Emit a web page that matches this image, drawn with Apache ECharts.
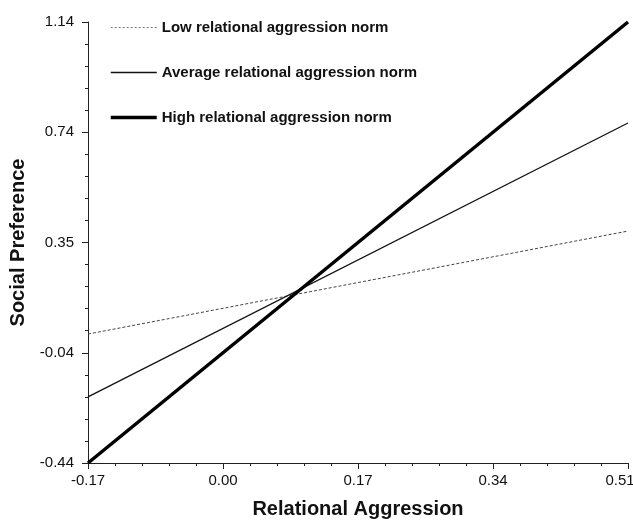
<!DOCTYPE html>
<html>
<head>
<meta charset="utf-8">
<script src="https://cdn.jsdelivr.net/npm/echarts@6/dist/echarts.min.js"></script>
<style>
  html, body { margin: 0; padding: 0; background: #fff; }
  #main { width: 633px; height: 524px; }
</style>
</head>
<body>
<div id="main"></div>
<script>
// endpoints of the simple slopes
const xValues = [-0.17, 0.51];
const lowNorm = [0.022, 0.391];
const avgNorm = [-0.203, 0.778];
const highNorm = [-0.44, 1.14];

const seriesNames = [
    'Low relational aggression norm',
    'Average relational aggression norm',
    'High relational aggression norm'
];

// y ticks are not a round step, so list them
const yTickValues = [-0.44, -0.045, 0.35, 0.745, 1.14];
const yTickLabels = ['-0.44', '-0.04', '0.35', '0.74', '1.14'];

const yMinor = [];
for (let i = 0; i <= 20; i++) {
    yMinor.push(-0.44 + i * (1.58 / 20));
}

function pairs(ys) {
    return xValues.map((x, i) => [x, ys[i]]);
}

var chartDom = document.getElementById('main');
var myChart = echarts.init(chartDom);
var option;

const font = 'Liberation Sans, Arial, sans-serif';
const lineStyles = [
    { color: '#444', width: 1, type: [3, 2] },
    { color: '#111', width: 1.3 },
    { color: '#000', width: 3.5 }
];

option = {
    animation: false,
    backgroundColor: '#fff',
    grid: { left: 88, right: 5, top: 22, bottom: 61, containLabel: false, outerBoundsMode: 'none' },
    legend: {
        orient: 'vertical',
        left: 104,
        top: 15,
        itemWidth: 46,
        itemHeight: 16,
        itemGap: 30,
        itemStyle: { color: 'transparent', borderWidth: 0 },
        textStyle: { fontFamily: font, fontSize: 15, fontWeight: 'bold', color: '#111', padding: [0, 0, 0, 0] },
        data: seriesNames.map((n, i) => ({
            name: n,
            lineStyle: i === 0 ? { color: '#777', width: 1, type: [2, 2] } : lineStyles[i]
        }))
    },
    xAxis: {
        type: 'value',
        min: -0.17,
        max: 0.51,
        interval: 0.17,
        name: 'Relational Aggression',
        nameLocation: 'middle',
        nameGap: 36,
        nameTextStyle: { fontFamily: font, fontSize: 20, fontWeight: 'bold', color: '#111' },
        axisLine: { show: true, onZero: false, lineStyle: { color: '#222', width: 1 } },
        axisTick: { show: true, length: 6, lineStyle: { color: '#222' } },
        minorTick: { show: true, splitNumber: 5, length: 3, lineStyle: { color: '#222' } },
        axisLabel: {
            margin: 10,
            fontFamily: font,
            fontSize: 15,
            color: '#111',
            hideOverlap: false,
            formatter: v => Math.abs(v - 0.51) < 1e-6 ? '{r|' + v.toFixed(2) + '}' : v.toFixed(2),
            rich: { r: { fontFamily: font, fontSize: 15, color: '#111', padding: [0, 16, 0, 0] } }
        },
        splitLine: { show: false }
    },
    yAxis: [
        {
            type: 'value',
            min: -0.44,
            max: 1.14,
            name: 'Social Preference',
            nameLocation: 'middle',
            nameGap: 58,
            nameRotate: 90,
            nameTextStyle: { fontFamily: font, fontSize: 20, fontWeight: 'bold', color: '#111' },
            axisLine: { show: true, onZero: false, lineStyle: { color: '#222', width: 1 } },
            axisTick: { show: true, length: 6, customValues: yTickValues, lineStyle: { color: '#222' } },
            axisLabel: {
                margin: 14,
                fontFamily: font,
                fontSize: 15,
                color: '#111',
                customValues: yTickValues,
                formatter: v => {
                    let i = yTickValues.findIndex(t => Math.abs(t - v) < 1e-6);
                    return i >= 0 ? yTickLabels[i] : '';
                }
            },
            splitLine: { show: false }
        },
        {
            type: 'value',
            min: -0.44,
            max: 1.14,
            position: 'left',
            offset: 0,
            axisLine: { show: false, onZero: false },
            axisTick: { show: true, length: 3, customValues: yMinor, lineStyle: { color: '#222' } },
            axisLabel: { show: false },
            splitLine: { show: false }
        }
    ],
    series: seriesNames.map((n, i) => ({
        name: n,
        type: 'line',
        symbol: 'none',
        data: pairs([lowNorm, avgNorm, highNorm][i]),
        lineStyle: lineStyles[i]
    }))
};

option && myChart.setOption(option);
</script>
</body>
</html>
